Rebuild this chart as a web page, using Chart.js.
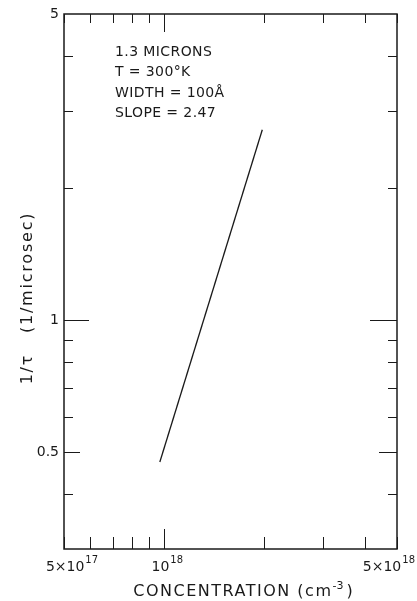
<!DOCTYPE html>
<html>
<head>
<meta charset="utf-8">
<script src="https://cdn.jsdelivr.net/npm/chart.js@4/dist/chart.umd.min.js"></script>
<style>
  html, body { margin: 0; padding: 0; background: #fff; }
  #wrap { width: 417px; height: 601px; position: relative; }
</style>
</head>
<body>
<div id="wrap"><canvas id="c" width="417" height="601"></canvas></div>
<script>
// ---- data ----
const concentration = [9.7e17, 1.97e18];      // cm^-3
const inverseLifetime = [0.474, 2.72];        // 1/microsec
const xTickValues = [5e17, 6e17, 7e17, 8e17, 9e17, 1e18, 2e18, 3e18, 4e18, 5e18];
const xMajorTicks = [1e18];
const yTickValues = [0.4, 0.5, 0.6, 0.7, 0.8, 0.9, 1, 2, 3, 4];
const yMajorTicks = [0.5, 1];
const xLabelValues = [5e17, 1e18, 5e18];
const xLabelBase = ['5×10', '10', '5×10'];
const xLabelExp = ['17', '18', '18'];
const yLabelValues = [0.5, 1, 5];
const yLabelText = ['0.5', '1', '5'];
const annotationLines = ['1.3 MICRONS', 'T = 300°K', 'WIDTH = 100Å', 'SLOPE = 2.47'];
const xTitle = 'CONCENTRATION (cm';
const xTitleExp = '-3';
const yTitle = '1/τ   (1/microsec)';

const INK = '#1a1a1a';
const FONT = '"DejaVu Sans", sans-serif';

function setSpacing(ctx, px) {
  if ('letterSpacing' in ctx) ctx.letterSpacing = px + 'px';
}

const framePlugin = {
  id: 'frame',
  afterDraw(chart) {
    const ctx = chart.ctx;
    const a = chart.chartArea;
    const xs = chart.scales.x, ys = chart.scales.y;
    ctx.save();
    ctx.strokeStyle = INK;
    ctx.fillStyle = INK;
    // frame
    ctx.lineWidth = 1.5;
    ctx.strokeRect(a.left, a.top, a.right - a.left, a.bottom - a.top);
    // ticks (inward on all sides)
    ctx.lineWidth = 1;
    ctx.beginPath();
    xTickValues.forEach(v => {
      const px = Math.round(xs.getPixelForValue(v)) + 0.5;
      const major = xMajorTicks.includes(v);
      const lb = major ? 20 : 12, lt = major ? 18 : 9;
      ctx.moveTo(px, a.bottom); ctx.lineTo(px, a.bottom - lb);
      ctx.moveTo(px, a.top); ctx.lineTo(px, a.top + lt);
    });
    yTickValues.forEach(v => {
      const py = Math.round(ys.getPixelForValue(v)) + 0.5;
      const major = yMajorTicks.includes(v);
      const ll = v === 1 ? 25 : (major ? 16 : 9);
      const lr = v === 1 ? 27 : (major ? 18 : 9);
      ctx.moveTo(a.left, py); ctx.lineTo(a.left + ll, py);
      ctx.moveTo(a.right, py); ctx.lineTo(a.right - lr, py);
    });
    ctx.stroke();
    // y tick labels
    setSpacing(ctx, 0);
    ctx.font = '14px ' + FONT;
    ctx.textAlign = 'right';
    ctx.textBaseline = 'middle';
    yLabelValues.forEach((v, i) => {
      ctx.fillText(yLabelText[i], a.left - 5, ys.getPixelForValue(v));
    });
    // x tick labels with superscripts
    const W = chart.width;
    xLabelValues.forEach((v, i) => {
      ctx.font = '14px ' + FONT;
      const wb = ctx.measureText(xLabelBase[i]).width;
      ctx.font = '10px ' + FONT;
      const we = ctx.measureText(xLabelExp[i]).width;
      const tw = wb + we + 1;
      let x0 = xs.getPixelForValue(v) - tw / 2 + (i === 0 ? 8 : 3);
      if (x0 + tw > W - 2) x0 = W - 2 - tw;
      ctx.textAlign = 'left';
      ctx.textBaseline = 'alphabetic';
      ctx.font = '14px ' + FONT;
      ctx.fillText(xLabelBase[i], x0, a.bottom + 22);
      ctx.font = '10px ' + FONT;
      ctx.fillText(xLabelExp[i], x0 + wb + 1, a.bottom + 14);
    });
    // x title
    setSpacing(ctx, 1.5);
    ctx.font = '16px ' + FONT;
    ctx.textBaseline = 'alphabetic';
    const wt = ctx.measureText(xTitle).width;
    setSpacing(ctx, 0);
    ctx.font = '11px ' + FONT;
    const we2 = ctx.measureText(xTitleExp).width;
    ctx.font = '16px ' + FONT;
    const wp = ctx.measureText(')').width;
    const total = wt + we2 + wp + 3;
    let tx = 243 - total / 2;
    ctx.textAlign = 'left';
    setSpacing(ctx, 1.5);
    ctx.fillText(xTitle, tx, a.bottom + 47);
    setSpacing(ctx, 0);
    ctx.font = '11px ' + FONT;
    ctx.fillText(xTitleExp, tx + wt, a.bottom + 40);
    ctx.font = '16px ' + FONT;
    ctx.fillText(')', tx + wt + we2 + 3, a.bottom + 47);
    // y title (rotated)
    setSpacing(ctx, 1.8);
    ctx.save();
    ctx.translate(28, 298);
    ctx.rotate(-Math.PI / 2);
    ctx.font = '16px ' + FONT;
    ctx.textAlign = 'center';
    ctx.textBaseline = 'middle';
    ctx.fillText(yTitle, 0, 0);
    ctx.restore();
    // annotation
    setSpacing(ctx, 0.4);
    ctx.font = '14px ' + FONT;
    ctx.textAlign = 'left';
    ctx.textBaseline = 'middle';
    annotationLines.forEach((t, i) => {
      ctx.fillText(t, 115, 52 + i * 20.5);
    });
    ctx.restore();
  }
};

new Chart(document.getElementById('c'), {
  type: 'scatter',
  data: {
    datasets: [{
      data: concentration.map((x, i) => ({ x: x, y: inverseLifetime[i] })),
      showLine: true,
      borderColor: INK,
      borderWidth: 1.3,
      pointRadius: 0,
      fill: false
    }]
  },
  options: {
    responsive: false,
    animation: false,
    layout: { padding: { left: 64, right: 20, top: 14, bottom: 52 } },
    plugins: { legend: { display: false }, tooltip: { enabled: false } },
    scales: {
      x: { type: 'logarithmic', min: 5e17, max: 5e18, display: false },
      y: { type: 'logarithmic', min: 0.3, max: 5, display: false }
    }
  },
  plugins: [framePlugin]
});
</script>
</body>
</html>
